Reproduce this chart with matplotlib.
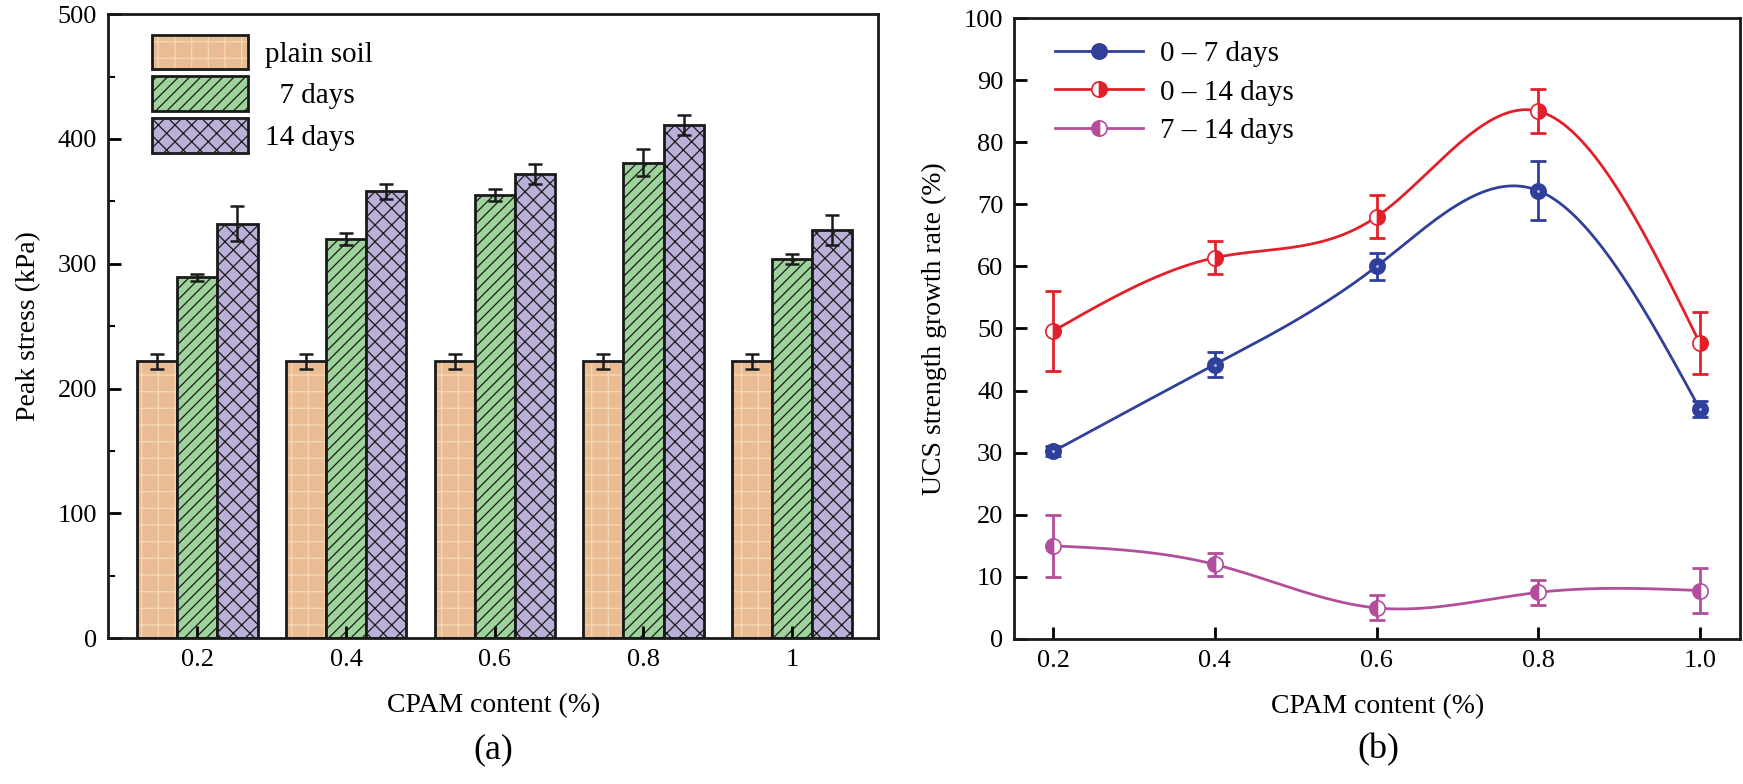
import numpy as np
import matplotlib
matplotlib.use("Agg")
import matplotlib.pyplot as plt
from matplotlib.patches import Patch
from matplotlib.legend_handler import HandlerTuple

plt.rcParams['font.family'] = ['Liberation Serif', 'DejaVu Serif']

# ---- panel (a) data ----
groups = ["0.2", "0.4", "0.6", "0.8", "1"]
plain = [222, 222, 222, 222, 222]
plain_err = [6, 6, 6, 6, 6]
d7 = [289, 320, 355, 381, 304]
d7_err = [2.5, 5, 5, 11, 4]
d14 = [332, 358, 372, 411, 327]
d14_err = [14, 6, 8, 8, 12]

# ---- panel (b) data ----
cpam = [0.2, 0.4, 0.6, 0.8, 1.0]
g07 = [30.2, 44.2, 60.0, 72.2, 37.0]
g07_err = [0.8, 2.0, 2.2, 4.7, 1.3]
g014 = [49.6, 61.4, 68.0, 85.0, 47.6]
g014_err = [6.5, 2.7, 3.5, 3.5, 5.0]
g714 = [15.0, 12.0, 5.0, 7.5, 7.8]
g714_err = [5.0, 1.8, 2.0, 2.0, 3.6]


def natural_spline(x, y, n=300):
    x = np.asarray(x, float)
    y = np.asarray(y, float)
    k = len(x)
    h = np.diff(x)
    A = np.zeros((k, k))
    b = np.zeros(k)
    A[0, 0] = A[-1, -1] = 1
    for i in range(1, k - 1):
        A[i, i - 1] = h[i - 1]
        A[i, i] = 2 * (h[i - 1] + h[i])
        A[i, i + 1] = h[i]
        b[i] = 6 * ((y[i + 1] - y[i]) / h[i] - (y[i] - y[i - 1]) / h[i - 1])
    M = np.linalg.solve(A, b)
    xs = np.linspace(x[0], x[-1], n)
    idx = np.clip(np.searchsorted(x, xs) - 1, 0, k - 2)
    x0, x1 = x[idx], x[idx + 1]
    hh = x1 - x0
    ys = (M[idx] * (x1 - xs) ** 3 / (6 * hh) + M[idx + 1] * (xs - x0) ** 3 / (6 * hh)
          + (y[idx] / hh - M[idx] * hh / 6) * (x1 - xs)
          + (y[idx + 1] / hh - M[idx + 1] * hh / 6) * (xs - x0))
    return xs, ys


fig = plt.figure(figsize=(17.43, 7.84), dpi=100)
ax1 = fig.add_axes([0.062, 0.186, 0.442, 0.796])
ax2 = fig.add_axes([0.582, 0.185, 0.4165, 0.792])

fs = 19
c_plain = '#E9BC93'
c_plain_h = '#F6D9B8'
c_green = '#9ED39B'
c_purple = '#BAB0D8'
edge = '#1a1a1a'

x = np.arange(len(groups))
w = 0.27
plt.rcParams['hatch.linewidth'] = 0.9

# plain soil: light grid hatch drawn underneath, black outline on top
ax1.bar(x - w, plain, w, color=c_plain, edgecolor=c_plain_h, hatch='+', linewidth=0)
ax1.bar(x - w, plain, w, color='none', edgecolor=edge, linewidth=2)
ax1.bar(x, d7, w, color=c_green, edgecolor=edge, hatch='///', linewidth=2)
ax1.bar(x + w, d14, w, color=c_purple, edgecolor=edge, hatch='xx', linewidth=2)
for pos, vals, err in [(x - w, plain, plain_err), (x, d7, d7_err), (x + w, d14, d14_err)]:
    ax1.errorbar(pos, vals, yerr=err, fmt='none', ecolor=edge, capsize=5, elinewidth=1.8, capthick=1.8)

h_plain = (Patch(facecolor=c_plain, edgecolor=c_plain_h, hatch='+', linewidth=0),
           Patch(facecolor='none', edgecolor=edge, linewidth=2))
h_green = Patch(facecolor=c_green, edgecolor=edge, linewidth=2, hatch='///')
h_purple = Patch(facecolor=c_purple, edgecolor=edge, linewidth=2, hatch='xx')
ax1.legend([h_plain, h_green, h_purple], ['plain soil', '  7 days', '14 days'], loc='upper left',
           bbox_to_anchor=(0.03, 1.0), frameon=False, fontsize=21,
           handlelength=3.3, handleheight=1.45, handletextpad=0.6, labelspacing=0.25,
           borderaxespad=0.3, handler_map={tuple: HandlerTuple(ndivide=1, pad=0)})

ax1.set_xlim(-0.6, 4.58)
ax1.set_ylim(0, 500)
ax1.set_yticks(np.arange(0, 501, 100))
ax1.set_yticks(np.arange(50, 500, 100), minor=True)
ax1.set_xticks(x)
ax1.set_xticklabels(groups)
ax1.set_ylabel('Peak stress (kPa)', fontsize=20, labelpad=12)
ax1.set_xlabel('CPAM content (%)', fontsize=20, labelpad=16)

# ---- panel (b) ----
c_blue = '#2F3F9A'
c_red = '#E3202A'
c_mag = '#B24E9C'

series = [(g07, g07_err, c_blue, 'full', '0 – 7 days'),
          (g014, g014_err, c_red, 'right', '0 – 14 days'),
          (g714, g714_err, c_mag, 'left', '7 – 14 days')]
for vals, err, col, fill, lab in series:
    xs, ys = natural_spline(cpam, vals)
    ax2.plot(xs, ys, color=col, lw=2, zorder=2)
    ax2.errorbar(cpam, vals, yerr=err, fmt='none', ecolor=col, capsize=6, elinewidth=2, capthick=2, zorder=3)
    ax2.plot(cpam, vals, 'o', ms=11, color=col, fillstyle=fill, markerfacecoloralt='white',
             markeredgecolor=col, markeredgewidth=1.2, zorder=4)
    if fill == 'full':
        ax2.plot(cpam, vals, 'o', ms=2, color='#B8C2F0', markeredgewidth=0, zorder=5)

leg_handles = []
for vals, err, col, fill, lab in series:
    h, = ax2.plot([], [], '-o', color=col, lw=2, ms=11, fillstyle=fill, markerfacecoloralt='white',
                  markeredgecolor=col, markeredgewidth=1.2, label=lab)
    leg_handles.append(h)
ax2.legend(handles=leg_handles, loc='upper left', bbox_to_anchor=(0.02, 1.006), frameon=False,
           fontsize=21, handlelength=3.0, handletextpad=0.6, labelspacing=0.42)

ax2.set_xlim(0.152, 1.05)
ax2.set_ylim(0, 100)
ax2.set_yticks(np.arange(0, 101, 10))
ax2.set_xticks(cpam)
ax2.set_xticklabels(['0.2', '0.4', '0.6', '0.8', '1.0'])
ax2.set_ylabel('UCS strength growth rate (%)', fontsize=20, labelpad=12)
ax2.set_xlabel('CPAM content (%)', fontsize=20, labelpad=16)

for ax in (ax1, ax2):
    for s in ax.spines.values():
        s.set_linewidth(2)
        s.set_color(edge)
    ax.tick_params(axis='both', which='major', direction='in', length=9, width=2, labelsize=fs, pad=8)
    ax.tick_params(axis='both', which='minor', direction='in', length=5, width=1.5)
    ax.tick_params(axis='x', which='minor', bottom=False)

fig.text(0.283, 0.022, '(a)', fontsize=26, ha='center', va='bottom')
fig.text(0.791, 0.022, '(b)', fontsize=26, ha='center', va='bottom')

fig.savefig('out.png', dpi=100)
